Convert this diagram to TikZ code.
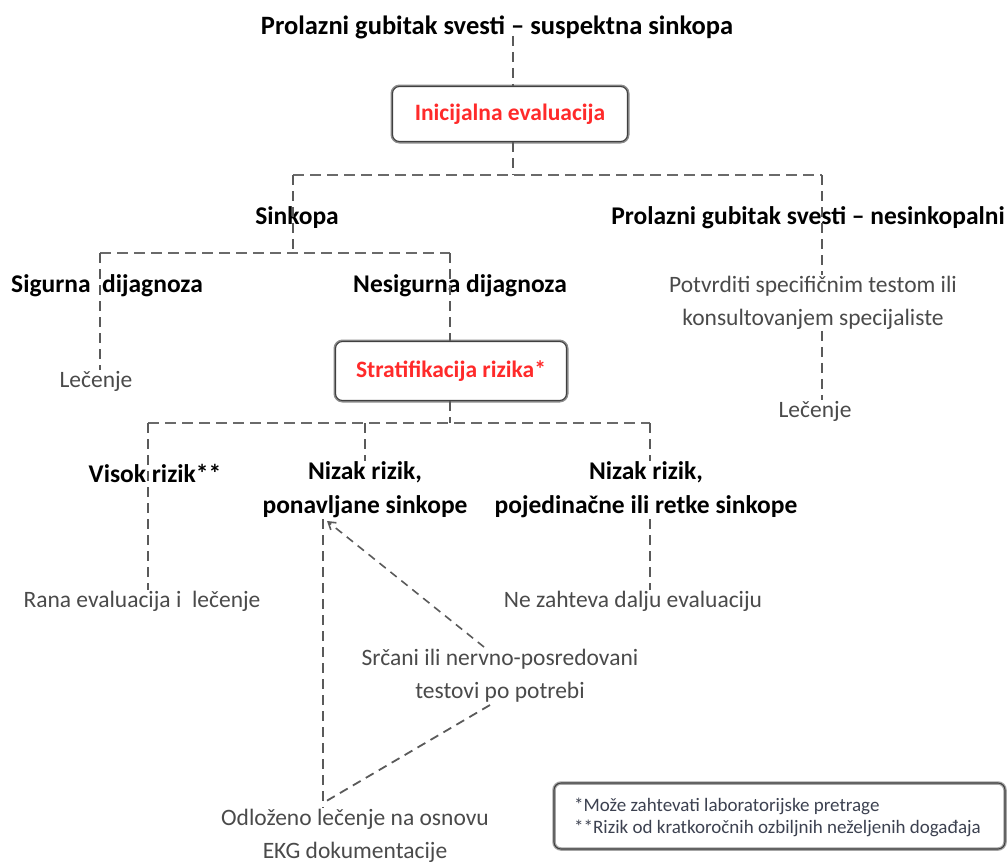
\documentclass[tikz,border=0pt]{standalone}
\usepackage{fontspec}
\setmainfont{Carlito}
\usetikzlibrary{arrows.meta}
\definecolor{lred}{HTML}{FF2A2A}
\definecolor{lgray}{HTML}{4A4A4A}
\definecolor{lline}{HTML}{5A5A5A}
\definecolor{hline}{HTML}{6A6A6A}
\definecolor{lnote}{HTML}{3C4150}
\tikzset{
  conn/.style={draw=lline, line width=2pt, dash pattern=on 10pt off 6pt},
  hconn/.style={draw=hline, line width=2.8pt, dash pattern=on 11pt off 6pt},
  hd/.style={font=\fontsize{25.5}{34}\selectfont\bfseries, text=black, inner sep=1pt, align=center},
  tx/.style={font=\fontsize{23.5}{33}\selectfont, text=lgray, inner sep=1pt, align=center},
  redbox/.style={draw=black!75, line width=1.1pt, rounded corners=7pt, fill=white,
    font=\fontsize{23.5}{26}\selectfont\bfseries, text=lred,
    preaction={draw=black!45, line width=4pt}},
  note/.style={font=\fontsize{19}{22}\selectfont, text=lnote, inner sep=0pt, anchor=west}
}
\begin{document}
\begin{tikzpicture}[x=1pt,y=-1pt]
\useasboundingbox (0,0) rectangle (1008,863);
% nodes
\node[hd, font=\fontsize{26.5}{30}\selectfont\bfseries] (title) at (497,27) {Prolazni gubitak svesti -- suspektna sinkopa};
\node[redbox, minimum width=235pt, minimum height=55pt] (init) at (510,114) {Inicijalna evaluacija};
\coordinate (j0) at (513,175);
\coordinate (cL) at (293,175);
\coordinate (cR) at (822,175);
\node[hd] (sink) at (297,218) {Sinkopa};
\node[hd] (nesink) at (808,218) {Prolazni gubitak svesti -- nesinkopalni};
\node[tx] (potv) at (813,303) {Potvrditi specifičnim testom ili\\konsultovanjem specijaliste};
\node[tx] (lec2) at (815,411) {Lečenje};
\coordinate (j1) at (293,253);
\coordinate (c1L) at (100,253);
\coordinate (c1R) at (450,253);
\node[hd] (sig) at (107,286) {Sigurna\ \ dijagnoza};
\node[hd] (nesig) at (460,286) {Nesigurna dijagnoza};
\node[tx] (lec1) at (96,381) {Lečenje};
\node[redbox, minimum width=231pt, minimum height=59pt] (strat) at (451,371) {Stratifikacija rizika*};
\coordinate (j2) at (450,423);
\coordinate (c2L) at (148,423);
\coordinate (c2M) at (365,423);
\coordinate (c2R) at (650,423);
\node[hd] (visok) at (155,473) {Visok rizik**};
\node[hd] (niz1) at (365,490) {Nizak rizik,\\ponavljane sinkope};
\node[hd] (niz2) at (646,490) {Nizak rizik,\\pojedinačne ili retke sinkope};
\node[tx] (rana) at (142,601) {Rana evaluacija i\ \ lečenje};
\node[tx] (nezah) at (633,601) {Ne zahteva dalju evaluaciju};
\node[tx] (srcani) at (500,676) {Srčani ili nervno-posredovani\\testovi po potrebi};
\node[tx] (odl) at (355,836) {Odloženo lečenje\ na osnovu\\EKG dokumentacije};
\coordinate (aTop) at (327,521);
\coordinate (aBot) at (484,647);
\coordinate (bTop) at (490,705);
\coordinate (bBot) at (323,803);
% connectors
\draw[conn] ([yshift=4pt]title.south -| j0) -- (init.north -| j0);
\draw[conn] (init.south -| j0) -- (j0);
\draw[hconn] (cL) -- (cR);
\draw[conn] (cL) -- (j1);
\draw[conn] (cR) -- (potv.north -| cR);
\draw[conn] (potv.south -| cR) -- (lec2.north -| cR);
\draw[hconn] (c1L) -- (c1R);
\draw[conn] (c1L) -- (lec1.north -| c1L);
\draw[conn] (c1R) -- (strat.north -| c1R);
\draw[conn] (strat.south -| j2) -- (j2);
\draw[hconn] (c2L) -- (c2R);
\draw[conn] (c2L) -- (rana.north -| c2L);
\draw[conn] (c2M) -- (niz1.north -| c2M);
\draw[conn] (c2R) -- (niz2.north -| c2R);
\draw[conn] (niz2.south -| c2R) -- (nezah.north -| c2R);
\draw[conn] (niz1.south -| bBot) -- (odl.north -| bBot);
\draw[conn, line width=1.6pt, dash pattern=on 8pt off 6pt, -{Straight Barb[length=7pt,width=9pt]}] (aBot) -- (aTop);
\draw[conn, line width=1.8pt, dash pattern=on 9pt off 6pt] (bTop) -- (bBot);
% legend
\node[draw=black!75, line width=1.1pt, rounded corners=7pt, minimum width=451pt, minimum height=66pt,
  preaction={draw=black!35, line width=3.5pt}] (leg) at (779.5,816) {};
\node[note] (n1) at (574,806) {*Može zahtevati laboratorijske pretrage};
\node[note] (n2) at (574,828) {**Rizik od kratkoročnih ozbiljnih neželjenih događaja};
\end{tikzpicture}
\end{document}
